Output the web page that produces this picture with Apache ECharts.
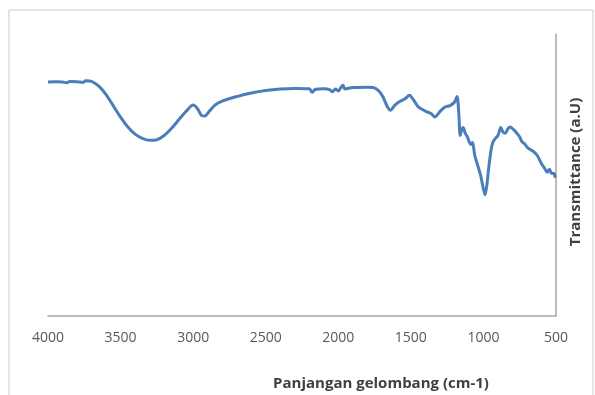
<!DOCTYPE html>
<html>
<head>
<meta charset="utf-8">
<script src="https://cdn.jsdelivr.net/npm/echarts@6/dist/echarts.min.js"></script>
<style>
html,body{margin:0;padding:0;background:#fff;}
#c{width:595px;height:395px;}
</style>
</head>
<body>
<div id="c"></div>
<script>
const wavenumber = [4000,3950,3900,3870,3850,3800,3760,3740,3700,3650,3600,3550,3500,3450,3400,3350,3300,3250,3200,3150,3100,3050,3000,2970,2940,2920,2890,2850,2800,2700,2600,2500,2400,2300,2200,2180,2160,2100,2060,2040,2020,2000,1980,1967,1955,1900,1800,1760,1720,1690,1660,1640,1610,1580,1540,1510,1480,1450,1420,1390,1360,1335,1300,1265,1230,1200,1182,1170,1160,1150,1140,1125,1110,1100,1085,1075,1060,1040,1020,1000,989,975,965,950,940,925,900,880,865,850,830,815,790,770,750,735,715,695,660,630,600,580,560,545,530,515,505];
const transmittance = [83.0,83.1,83.0,82.7,83.2,83.1,82.8,83.4,83.2,81.5,78.5,74.5,70.5,67.0,64.5,63.0,62.3,62.5,64.0,66.5,69.5,72.5,74.8,73.5,71.0,70.9,72.5,74.8,76.2,77.8,79.1,80.0,80.5,80.7,80.6,79.3,80.3,80.6,80.3,79.5,80.5,79.8,81.2,81.8,80.5,81.0,81.1,81.0,79.8,77.5,74.0,73.0,74.8,76.0,77.0,78.3,76.5,74.2,73.2,72.4,71.8,70.6,72.5,74.1,74.6,75.8,77.8,72.0,64.0,66.0,66.8,64.8,63.5,62.0,60.8,61.5,57.0,53.5,50.0,45.0,43.0,47.0,52.0,58.0,60.8,62.5,64.0,66.8,65.2,64.8,66.5,67.0,66.0,64.8,63.5,61.8,61.0,59.6,58.5,57.0,54.0,52.5,51.0,52.0,50.5,50.5,49.0];
const xTicks = [4000,3500,3000,2500,2000,1500,1000,500];
const xTitle = 'Panjangan gelombang (cm-1)';
const yTitle = 'Transmittance (a.U)';

const chart = echarts.init(document.getElementById('c'), null, {renderer:'canvas'});
const seriesData = wavenumber.map((w,i)=>[w, transmittance[i]]);
chart.setOption({
  animation:false,
  backgroundColor:'#fff',
  grid:{left:48,right:39,top:34,bottom:79},
  xAxis:{
    type:'value', min:500, max:4000, interval:500, inverse:true,
    axisLine:{show:true,lineStyle:{color:'#a6a6a6',width:1.5}},
    axisTick:{show:false},
    splitLine:{show:false},
    axisLabel:{color:'#595959',fontSize:14,fontFamily:'Open Sans',margin:15,
      formatter:v=> xTicks.includes(v)? String(v):''}
  },
  yAxis:{
    type:'value', min:0, max:100, position:'right',
    axisLine:{show:true,lineStyle:{color:'#a6a6a6',width:1.5}},
    axisTick:{show:false},
    axisLabel:{show:false},
    splitLine:{show:false}
  },
  series:[{
    type:'line', data:seriesData, showSymbol:false, smooth:0.3,
    lineStyle:{color:'#4a7ebb',width:3},
    itemStyle:{color:'#4a7ebb'}
  }],
  graphic:[
    {type:'rect',shape:{x:9,y:10,width:584,height:400},style:{fill:'none',stroke:'#c8c8c8',lineWidth:1},silent:true},
    {type:'text',x:381,y:384,style:{text:xTitle,fill:'#404040',font:'bold 15px "Open Sans"',textAlign:'center',textVerticalAlign:'middle'}},
    {type:'text',x:576,y:172,rotation:Math.PI/2,style:{text:yTitle,fill:'#404040',font:'bold 15px "Open Sans"',textAlign:'center',textVerticalAlign:'middle'}}
  ]
});
</script>
</body>
</html>
